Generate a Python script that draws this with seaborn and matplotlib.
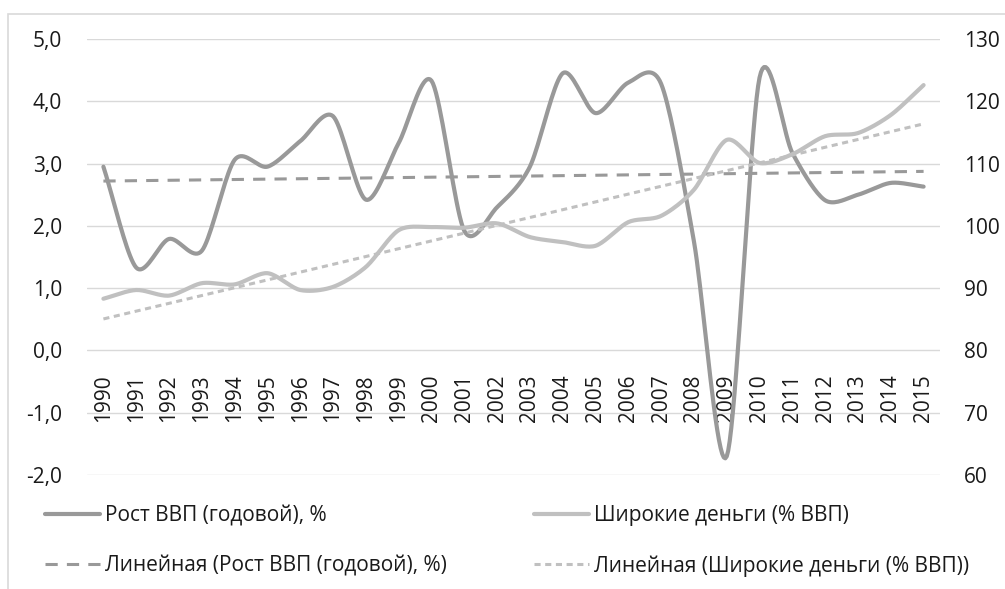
import numpy as np
import pandas as pd
import matplotlib
matplotlib.use("Agg")
import matplotlib.pyplot as plt
import seaborn as sns
from matplotlib.patches import Rectangle
from matplotlib.lines import Line2D

years = [str(y) for y in range(1990, 2016)]
gdp_growth = [2.95, 1.33, 1.79, 1.60, 3.06, 2.95, 3.36, 3.76, 2.42, 3.33, 4.33, 1.92,
              2.30, 2.95, 4.45, 3.81, 4.30, 4.28, 1.75, -1.70, 4.38, 3.17, 2.41, 2.50,
              2.69, 2.63]
broad_money = [88.3, 89.7, 88.8, 90.8, 90.6, 92.4, 89.7, 90.2, 93.4, 99.3, 99.8, 99.7,
               100.4, 98.2, 97.4, 96.8, 100.6, 101.6, 105.8, 113.8, 110.1, 111.5, 114.4,
               114.9, 117.8, 122.6]
labels = ["Рост ВВП (годовой), %", "Широкие деньги (% ВВП)",
          "Линейная (Рост ВВП (годовой), %)", "Линейная (Широкие деньги (% ВВП))"]
left_ticks = [-2, -1, 0, 1, 2, 3, 4, 5]
right_ticks = [60, 70, 80, 90, 100, 110, 120, 130]

sns.set_theme(style="white")
plt.rcParams['font.family'] = ['Open Sans', 'DejaVu Sans']

C_GDP = "#999999"
C_MON = "#c0c0c0"
TXT = "#1a1a1a"


def smooth(y, n=20, k=7.0):
    """Bezier smoothing through the points (Excel-like smoothed line)."""
    y = np.asarray(y, float)
    x = np.arange(len(y), dtype=float)
    P = np.column_stack([x, y])
    P = np.vstack([P[0] - (P[1] - P[0]), P, P[-1] + (P[-1] - P[-2])])
    out = []
    for i in range(1, len(P) - 2):
        p0, p1, p2, p3 = P[i - 1], P[i], P[i + 1], P[i + 2]
        t = np.linspace(0, 1, n, endpoint=False)[:, None]
        b1 = p1 + (p2 - p0) / k
        b2 = p2 - (p3 - p1) / k
        pts = ((1 - t) ** 3) * p1 + 3 * ((1 - t) ** 2) * t * b1 + 3 * (1 - t) * t ** 2 * b2 + t ** 3 * p2
        out.append(pts)
    out.append(P[-2][None, :])
    out = np.vstack(out)
    return out[:, 0], out[:, 1]


fig = plt.figure(figsize=(10.05, 5.89), dpi=100)
ax = fig.add_axes([87 / 1005, 1 - 475 / 589, 853 / 1005, 436 / 589])
ax2 = ax.twinx()

xi = np.arange(len(years))
gx, gy = smooth(gdp_growth)
mx, my = smooth(broad_money)

sns.lineplot(x=gx, y=gy, ax=ax, color=C_GDP, linewidth=3, sort=False,
             estimator=None, legend=False)
sns.lineplot(x=mx, y=my, ax=ax2, color=C_MON, linewidth=3, sort=False,
             estimator=None, legend=False)

# linear trend lines
cg = np.polyfit(xi, gdp_growth, 1)
cm = np.polyfit(xi, broad_money, 1)
sns.lineplot(x=xi, y=np.polyval(cg, xi), ax=ax, color=C_GDP, linewidth=2.2, legend=False)
ax.lines[-1].set_dashes([4, 3])
sns.lineplot(x=xi, y=np.polyval(cm, xi), ax=ax2, color=C_MON, linewidth=2.2, legend=False)
ax2.lines[-1].set_dashes([2, 1.5])

ax.set_xlim(-0.5, len(years) - 0.5)
ax.set_ylim(-2, 5)
ax2.set_ylim(60, 130)
for s in list(ax.spines.values()) + list(ax2.spines.values()):
    s.set_visible(False)
ax.spines['bottom'].set_position(('data', 0))

ax.set_yticks(left_ticks)
ax.set_yticklabels([f"{t:.1f}".replace(".", ",") for t in left_ticks])
ax2.set_yticks(right_ticks)
ax2.set_yticklabels([str(t) for t in right_ticks])
ax.set_xticks(xi)
ax.set_xticklabels(years)

ax.grid(axis="y", color="#d9d9d9", linewidth=1)
ax.grid(axis="x", visible=False)
ax2.grid(False)
ax.tick_params(axis='x', length=0, pad=17, labelsize=15, labelcolor=TXT, labelrotation=90)
ax.tick_params(axis='y', length=0, pad=18, labelsize=15, labelcolor=TXT)
ax2.tick_params(axis='y', which='both', length=0, pad=17, labelsize=15, labelcolor=TXT,
                right=True, labelright=True)
ax.set_xlabel("")
ax.set_ylabel("")
ax2.set_ylabel("")

# chart border
fig.patches.append(Rectangle((8 / 1005, -0.05), 1.2, 1 - 14 / 589 + 0.05,
                             transform=fig.transFigure, fill=False,
                             edgecolor="#d9d9d9", linewidth=1.2))

# legend (2 x 2)
h1 = [Line2D([], [], color=C_GDP, lw=3), Line2D([], [], color=C_GDP, lw=2.2, dashes=[4, 3])]
h2 = [Line2D([], [], color=C_MON, lw=3), Line2D([], [], color=C_MON, lw=2.2, dashes=[2, 1.5])]
kw = dict(loc="center left", frameon=False, fontsize=15, handlelength=2.65,
          handletextpad=0.25, labelspacing=1.38, borderaxespad=0, borderpad=0,
          labelcolor=TXT)
leg1 = fig.legend(h1, [labels[0], labels[2]], bbox_to_anchor=(45 / 1005, 1 - 541 / 589), **kw)
leg2 = fig.legend(h2, [labels[1], labels[3]], bbox_to_anchor=(534 / 1005, 1 - 541 / 589), **kw)

fig.savefig("out.png", dpi=100)
